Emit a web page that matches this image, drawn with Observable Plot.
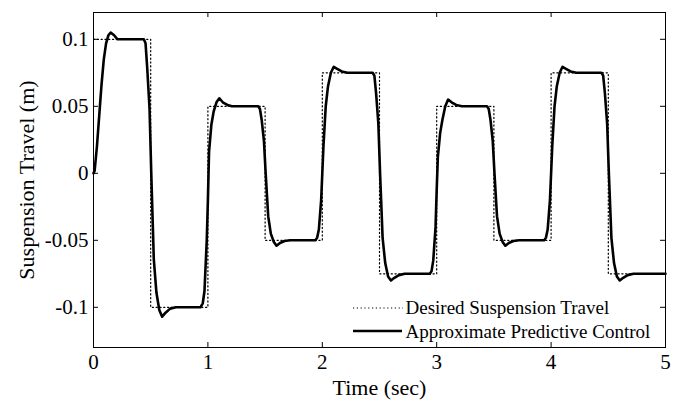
<!DOCTYPE html>
<html><head><meta charset="utf-8">
<script src="https://cdn.jsdelivr.net/npm/d3@7"></script>
<script src="https://cdn.jsdelivr.net/npm/@observablehq/plot@0.6"></script>
<style>body{margin:0;background:#fff}</style>
</head><body><div id="chart"></div>
<script>
// Desired (reference) step signal
const stepTimes  = [0, 0.5, 1, 1.5, 2, 2.5, 3, 3.5, 4, 4.5, 5];
const stepLevels = [0.1, -0.1, 0.05, -0.05, 0.075, -0.075, 0.05, -0.05, 0.075, -0.075, -0.075];

// Approximate predictive control response [time, travel]
const response = [
  [0,0],[0.01,0.002],[0.03,0.02],[0.05,0.043],[0.07,0.066],[0.09,0.085],[0.11,0.097],[0.13,0.103],[0.15,0.105],[0.18,0.103],[0.21,0.1],[0.44,0.1],
  [0.455,0.097],[0.47,0.078],[0.49,0.048],[0.505,0],[0.527,-0.064],[0.55,-0.089],[0.575,-0.102],[0.6,-0.107],[0.63,-0.104],[0.67,-0.101],[0.72,-0.1],[0.935,-0.1],
  [0.955,-0.097],[0.97,-0.088],[0.99,-0.05],[1.0,-0.02],[1.01,0.016],[1.03,0.036],[1.05,0.046],[1.075,0.053],[1.1,0.056],[1.13,0.053],[1.17,0.051],[1.21,0.05],[1.44,0.05],
  [1.455,0.048],[1.47,0.04],[1.49,0.024],[1.505,0],[1.527,-0.032],[1.55,-0.045],[1.575,-0.051],[1.6,-0.054],[1.63,-0.052],[1.67,-0.0505],[1.72,-0.05],[1.94,-0.05],
  [1.955,-0.048],[1.97,-0.042],[1.99,-0.02],[2.0,0],[2.01,0.02],[2.03,0.05],[2.05,0.065],[2.075,0.075],[2.1,0.0795],[2.13,0.078],[2.17,0.076],[2.22,0.075],[2.44,0.075],
  [2.455,0.073],[2.47,0.06],[2.49,0.037],[2.505,0],[2.527,-0.048],[2.55,-0.067],[2.575,-0.077],[2.6,-0.08],[2.63,-0.078],[2.67,-0.076],[2.72,-0.075],[2.94,-0.075],
  [2.955,-0.073],[2.97,-0.065],[2.99,-0.04],[3.0,-0.0125],[3.01,0.012],[3.03,0.03],[3.05,0.04],[3.075,0.05],[3.1,0.055],[3.13,0.053],[3.17,0.051],[3.22,0.05],[3.44,0.05],
  [3.455,0.048],[3.47,0.04],[3.49,0.024],[3.505,0],[3.527,-0.032],[3.55,-0.045],[3.575,-0.051],[3.6,-0.054],[3.63,-0.052],[3.67,-0.0505],[3.72,-0.05],[3.94,-0.05],
  [3.955,-0.048],[3.97,-0.042],[3.99,-0.02],[4.0,0],[4.01,0.02],[4.03,0.05],[4.05,0.065],[4.075,0.075],[4.1,0.0795],[4.13,0.078],[4.17,0.076],[4.22,0.075],[4.44,0.075],
  [4.455,0.073],[4.47,0.06],[4.49,0.037],[4.505,0],[4.527,-0.048],[4.55,-0.067],[4.575,-0.077],[4.6,-0.08],[4.63,-0.078],[4.67,-0.076],[4.72,-0.075],[5,-0.075]
];

const xTicks = [0, 1, 2, 3, 4, 5];
const xTickLabels = ["0", "1", "2", "3", "4", "5"];
const yTicks = [0.1, 0.05, 0, -0.05, -0.1];
const yTickLabels = ["0.1", "0.05", "0", "-0.05", "-0.1"];
const xTitle = "Time (sec)";
const yTitle = "Suspension Travel (m)";
const legendLabels = ["Desired Suspension Travel", "Approximate Predictive Control"];

const W = 679, H = 402, mL = 93, mR = 14, mT = 12, mB = 55;
const innerW = W - mL - mR, innerH = H - mT - mB;
const desired = stepTimes.map((t, i) => ({t, v: stepLevels[i]}));
const resp = response.map(([t, v]) => ({t, v}));
const innerXTicks = xTicks.slice(1, -1);

const plot = Plot.plot({
  width: W, height: H,
  marginLeft: mL, marginRight: mR, marginTop: mT, marginBottom: mB,
  x: {domain: [0, 5]},
  y: {domain: [-0.13, 0.12]},
  style: {fontFamily: "'Liberation Serif','Times New Roman',serif", background: "white", color: "black"},
  marks: [
    Plot.line(desired, {x: "t", y: "v", curve: "step-after", stroke: "black", strokeWidth: 1.2, strokeDasharray: "1.2,2.6"}),
    Plot.line(resp, {x: "t", y: "v", stroke: "black", strokeWidth: 2.6, strokeLinejoin: "round"}),
    Plot.frame({stroke: "black", strokeWidth: 1}),
    Plot.tickX(innerXTicks, {x: d => d, insetTop: innerH - 5, stroke: "black"}),
    Plot.tickX(innerXTicks, {x: d => d, insetBottom: innerH - 5, stroke: "black"}),
    Plot.tickY(yTicks, {y: d => d, insetRight: innerW - 5, stroke: "black"}),
    Plot.tickY(yTicks, {y: d => d, insetLeft: innerW - 5, stroke: "black"}),
    Plot.axisX(xTicks, {tickSize: 0, tickPadding: 7, fontSize: 21, label: null,
      tickFormat: d => xTickLabels[xTicks.indexOf(d)]}),
    Plot.axisY(yTicks, {tickSize: 0, tickPadding: 5, fontSize: 21, label: null,
      tickFormat: d => yTickLabels[yTicks.indexOf(d)]}),
    Plot.text([xTitle], {text: d => d, frameAnchor: "bottom", dy: 40, lineAnchor: "middle", textAnchor: "middle", fontSize: 22, fill: "black"}),
    Plot.text([yTitle], {text: d => d, frameAnchor: "left", dx: -67, rotate: -90, lineAnchor: "middle", textAnchor: "middle", fontSize: 22, fill: "black"}),
    Plot.text([legendLabels[0]], {text: d => d, frameAnchor: "bottom-left", dx: 312, dy: -40, lineAnchor: "middle", textAnchor: "start", fontSize: 19, fill: "black"}),
    Plot.text([legendLabels[1]], {text: d => d, frameAnchor: "bottom-left", dx: 312, dy: -16, lineAnchor: "middle", textAnchor: "start", fontSize: 19, fill: "black"})
  ]
});

// legend swatches
const svg = d3.select(plot);
svg.append("line").attr("x1", mL + 260).attr("x2", mL + 310).attr("y1", H - mB - 39).attr("y2", H - mB - 39)
  .attr("stroke", "black").attr("stroke-width", 1.2).attr("stroke-dasharray", "1.2,2.6");
svg.append("line").attr("x1", mL + 260).attr("x2", mL + 309).attr("y1", H - mB - 16).attr("y2", H - mB - 16)
  .attr("stroke", "black").attr("stroke-width", 2.6);

document.getElementById("chart").appendChild(plot);
</script>
</body></html>
